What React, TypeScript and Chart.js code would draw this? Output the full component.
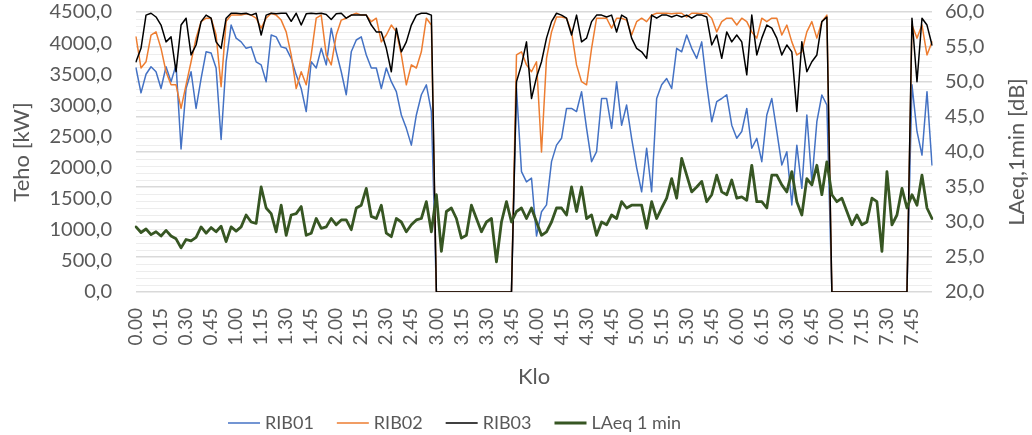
import React, { useEffect, useRef } from "react";
import { Chart, registerables } from "chart.js";

Chart.register(...registerables);

// Time categories every 3 minutes from 0.00 to 7.57
const categories: string[] = [];
for (let m = 0; m < 480; m += 3) {
  categories.push(`${Math.floor(m / 60)}.${String(m % 60).padStart(2, "0")}`);
}

const seriesNames = ["RIB01", "RIB02", "RIB03", "LAeq 1 min"];
const leftTitle = "Teho [kW]";
const rightTitle = "LAeq,1min [dB]";
const xTitle = "Klo";

const rib01 = [
  3600, 3200, 3500, 3620, 3540, 3270, 3620, 3380, 3650, 2300,
  3270, 3540, 2950, 3430, 3860, 3840, 3600, 2450, 3700, 4290,
  4080, 4020, 3916, 3940, 3700, 3650, 3380, 4130, 4100, 3940,
  3916, 3755, 3490, 3270, 2900, 3700, 3600, 3916, 3650, 4240,
  3860, 3540, 3170, 3860, 4050, 4100, 3810, 3600, 3600, 3270,
  3600, 3380, 3220, 2845, 2630, 2360, 2845, 3170, 3330, 2900,
  0, 0, 0, 0, 0, 0, 0, 0, 0, 0,
  0, 0, 0, 0, 0, 0, 3270, 1934, 1770, 1830,
  900, 1290, 1400, 2095, 2360, 2470, 2950, 2950, 2900, 3220,
  2630, 2095, 2255, 3110, 3110, 2630, 3380, 2680, 3005, 2470,
  2000, 1610, 2310, 1610, 3110, 3330, 3430, 3270, 3916, 3860,
  4130, 3916, 3755, 4020, 3330, 2737, 3060, 3110, 3170, 2680,
  2470, 2580, 2950, 2310, 2470, 2095, 2845, 3110, 2580, 2040,
  2255, 1400, 2360, 1666, 2845, 1770, 2737, 3166, 3005, 0,
  0, 0, 0, 0, 0, 0, 0, 0, 0, 0,
  0, 0, 0, 0, 0, 3330, 2580, 2200, 3220, 2040,
];

const rib02 = [
  4100, 3600, 3700, 4130, 4180, 3915, 3540, 3330, 3330, 2950,
  3330, 3700, 4080, 4345, 4400, 4400, 4130, 3300, 4350, 4450,
  4450, 4450, 4470, 4450, 4400, 4240, 4400, 4480, 4450, 4370,
  4180, 3810, 3270, 3540, 3330, 3810, 4400, 4450, 3810, 3650,
  4130, 4370, 4400, 4450, 4480, 4450, 4450, 4345, 4400, 4020,
  4130, 4290, 4180, 3810, 3330, 3650, 3600, 3860, 4400, 4290,
  0, 0, 0, 0, 0, 0, 0, 0, 0, 0,
  0, 0, 0, 0, 0, 0, 3810, 3860, 3650, 3540,
  3700, 2250, 3755, 4180, 4420, 4420, 4400, 4180, 3650, 3380,
  3330, 3916, 4400, 4400, 4400, 4240, 4400, 4400, 4370, 4130,
  4345, 4400, 4345, 4450, 4480, 4480, 4480, 4470, 4480, 4480,
  4420, 4480, 4480, 4470, 4480, 4400, 4180, 4345, 4400, 4400,
  4290, 4400, 4345, 4180, 4080, 4400, 4345, 4400, 4400, 4130,
  4290, 4020, 3810, 3860, 4180, 4345, 4080, 4345, 4450, 0,
  0, 0, 0, 0, 0, 0, 0, 0, 0, 0,
  0, 0, 0, 0, 0, 4290, 4080, 4290, 3810, 4020,
];

const rib03 = [
  3700, 3916, 4450, 4480, 4420, 4290, 4020, 4100, 3540, 4290,
  4400, 3810, 3970, 4345, 4450, 4400, 4020, 3916, 4400, 4480,
  4480, 4470, 4480, 4450, 4480, 4130, 4450, 4480, 4470, 4480,
  4480, 4350, 4480, 4290, 4470, 4480, 4470, 4480, 4460, 4380,
  4470, 4480, 4400, 4450, 4450, 4450, 4450, 4290, 4180, 4180,
  3916, 3540, 4240, 3860, 4020, 4290, 4450, 4480, 4480, 4450,
  0, 0, 0, 0, 0, 0, 0, 0, 0, 0,
  0, 0, 0, 0, 0, 0, 3380, 3650, 4020, 3110,
  3450, 3700, 4080, 4345, 4480, 4450, 4400, 4130, 4450, 4020,
  4080, 4345, 4450, 4450, 4420, 4450, 4180, 4450, 4400, 4080,
  3916, 3860, 3755, 4450, 4400, 4450, 4450, 4420, 4450, 4420,
  4450, 4400, 4450, 4450, 4420, 3970, 4130, 3755, 4180, 4020,
  4130, 4020, 3490, 4450, 3810, 4080, 4290, 4240, 4080, 3810,
  3970, 3860, 2900, 4020, 3540, 3700, 3810, 4345, 4420, 0,
  0, 0, 0, 0, 0, 0, 0, 0, 0, 0,
  0, 0, 0, 0, 0, 4400, 3380, 4400, 4290, 3970,
];

const laeq = [
  29.3, 28.5, 29.0, 28.2, 28.6, 28.0, 28.8, 28.0, 27.6, 26.3,
  27.5, 27.3, 27.8, 29.3, 28.4, 29.2, 28.6, 29.4, 27.2, 29.3,
  28.7, 29.3, 31.0, 30.0, 29.8, 35.0, 32.0, 31.2, 28.6, 32.4,
  28.1, 31.0, 31.2, 32.2, 28.1, 28.4, 30.5, 29.1, 29.3, 30.5,
  29.6, 30.3, 30.3, 28.9, 32.0, 32.4, 34.8, 30.8, 30.5, 32.4,
  28.4, 27.9, 30.5, 30.0, 28.6, 29.6, 30.3, 30.5, 32.9, 28.6,
  33.9, 25.8, 31.5, 32.0, 30.5, 27.7, 28.1, 32.4, 30.5, 28.6,
  30.0, 30.5, 24.3, 30.0, 32.9, 30.0, 31.5, 32.0, 30.5, 32.0,
  30.0, 28.1, 28.6, 30.0, 32.0, 32.0, 31.0, 35.0, 31.5, 35.0,
  30.5, 31.0, 28.1, 30.0, 29.6, 31.0, 30.5, 32.9, 32.0, 32.4,
  32.4, 32.4, 29.1, 32.9, 30.5, 32.0, 33.4, 36.2, 33.4, 39.1,
  36.7, 34.3, 35.0, 35.8, 32.9, 33.9, 36.7, 34.3, 33.9, 36.0,
  33.4, 33.6, 33.1, 38.1, 32.9, 32.9, 32.0, 36.7, 36.7, 35.3,
  34.3, 37.2, 32.9, 31.0, 36.2, 35.3, 38.1, 33.9, 38.6, 33.9,
  32.9, 33.4, 31.5, 29.6, 31.0, 29.6, 30.0, 33.4, 32.9, 25.8,
  37.2, 29.6, 31.0, 34.8, 32.0, 33.9, 32.4, 36.7, 32.0, 30.5,
];

const colors = ["#4472C4", "#ED7D31", "#000000", "#375623"];
const FONT = "Lato, 'Open Sans', sans-serif";
const TEXT = "#595959";

const fmt = (v: number) => v.toFixed(1).replace(".", ",");

export default function App() {
  const ref = useRef<HTMLCanvasElement | null>(null);

  useEffect(() => {
    if (!ref.current) return;

    // Right-hand axis title (reads bottom-to-top) and legend row
    const extrasPlugin = {
      id: "extras",
      afterDraw(chart: any) {
        const { ctx, chartArea } = chart;
        ctx.save();
        ctx.font = `22px ${FONT}`;
        ctx.fillStyle = TEXT;
        ctx.textAlign = "center";
        ctx.textBaseline = "middle";
        ctx.translate(chart.width - 15, (chartArea.top + chartArea.bottom) / 2);
        ctx.rotate(-Math.PI / 2);
        ctx.fillText(rightTitle, 0, 0);
        ctx.restore();

        // legend
        ctx.save();
        ctx.font = `18px ${FONT}`;
        ctx.textBaseline = "middle";
        ctx.textAlign = "left";
        let x = 228;
        const y = 423;
        chart.data.datasets.forEach((ds: any) => {
          ctx.strokeStyle = ds.borderColor;
          ctx.lineWidth = ds.borderWidth;
          ctx.lineCap = "butt";
          ctx.beginPath();
          ctx.moveTo(x, y);
          ctx.lineTo(x + 32, y);
          ctx.stroke();
          ctx.fillStyle = TEXT;
          ctx.fillText(ds.label, x + 37, y);
          x += 37 + ctx.measureText(ds.label).width + 23;
        });
        ctx.restore();
      },
    };

    const mk = (i: number, data: number[], axis: string, width: number, order: number) => ({
      label: seriesNames[i],
      data,
      borderColor: colors[i],
      backgroundColor: colors[i],
      borderWidth: width,
      pointRadius: 0,
      pointHoverRadius: 0,
      tension: 0,
      yAxisID: axis,
      order,
      borderJoinStyle: "round" as const,
      borderCapStyle: "round" as const,
    });

    const hiddenTicks = (len: number) => ({
      display: true,
      drawOnChartArea: false,
      drawTicks: true,
      tickLength: len,
      tickColor: "rgba(0,0,0,0)",
      color: "rgba(0,0,0,0)",
    });

    const chart = new Chart(ref.current, {
      type: "line",
      data: {
        labels: categories,
        datasets: [
          mk(0, rib01, "y", 1.5, 4),
          mk(1, rib02, "y", 1.5, 3),
          mk(2, rib03, "y", 1.5, 2),
          mk(3, laeq, "y1", 2.8, 1),
        ],
      },
      options: {
        responsive: false,
        animation: false,
        devicePixelRatio: 1,
        layout: { autoPadding: false, padding: { top: 12, left: 0, right: 0, bottom: 0 } },
        plugins: {
          tooltip: { enabled: false },
          legend: { display: false },
        },
        scales: {
          x: {
            type: "category",
            offset: false,
            grid: { display: false, drawTicks: false },
            border: { display: false },
            ticks: {
              autoSkip: false,
              minRotation: 90,
              maxRotation: 90,
              padding: 16,
              color: TEXT,
              font: { family: FONT, size: 19 },
              callback: (_v: any, i: number) => (i % 5 === 0 ? categories[i] : ""),
            },
            title: {
              display: true,
              text: xTitle,
              color: TEXT,
              font: { family: FONT, size: 22 },
              padding: { top: 0, bottom: 45 },
            },
            afterFit: (s: any) => {
              s.height = 143;
            },
          },
          y: {
            position: "left",
            min: 0,
            max: 4500,
            grid: hiddenTicks(24),
            border: { display: false },
            ticks: {
              stepSize: 500,
              padding: 0,
              color: TEXT,
              font: { family: FONT, size: 20 },
              callback: (v: any) => fmt(Number(v)),
            },
            title: {
              display: true,
              text: leftTitle,
              color: TEXT,
              font: { family: FONT, size: 22 },
              padding: { top: 9, bottom: 0 },
            },
            afterFit: (s: any) => {
              s.width = 136;
            },
          },
          y1: {
            position: "right",
            min: 20,
            max: 60,
            grid: {
              drawTicks: true,
              tickLength: 13,
              tickColor: "rgba(0,0,0,0)",
              color: (c: any) => (c.tick && c.tick.value % 5 === 0 ? "#D9D9D9" : "#EDEDED"),
              lineWidth: (c: any) => (c.tick && c.tick.value % 5 === 0 ? 1.6 : 1),
            },
            border: { display: false },
            ticks: {
              stepSize: 1,
              maxTicksLimit: 100,
              autoSkip: false,
              padding: 0,
              color: TEXT,
              font: { family: FONT, size: 20 },
              callback: (v: any) => (Number(v) % 5 === 0 ? fmt(Number(v)) : ""),
            },
            afterFit: (s: any) => {
              s.width = 100;
            },
          },
        },
      } as any,
      plugins: [extrasPlugin],
    });
    return () => chart.destroy();
  }, []);

  return (
    <div style={{ position: "fixed", left: 0, top: 0, width: 1032, height: 435, background: "#fff" }}>
      <canvas ref={ref} width={1032} height={435} style={{ width: 1032, height: 435 }} />
    </div>
  );
}
